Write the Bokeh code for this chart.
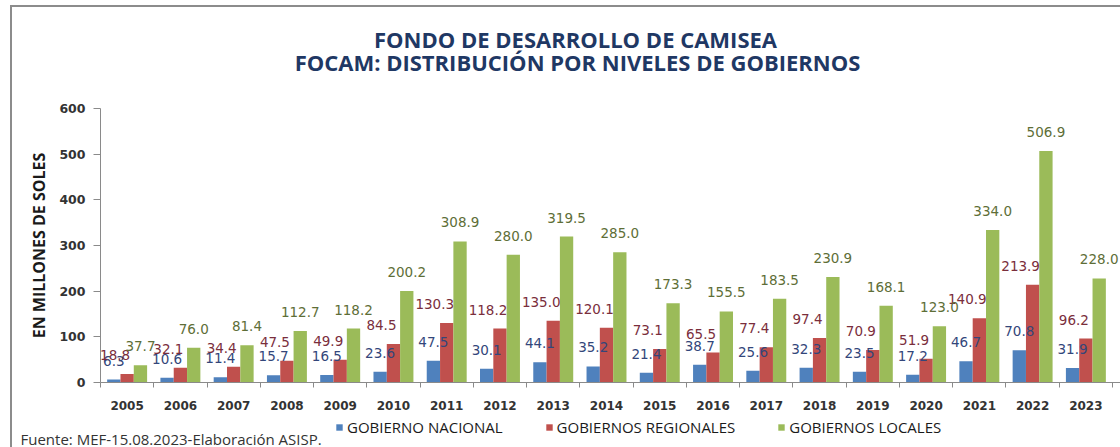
from bokeh.plotting import figure
from bokeh.layouts import column
from bokeh.models import (ColumnDataSource, FixedTicker, Legend, LegendItem, Range1d, Label)
from bokeh.transform import dodge
from bokeh.core.properties import value
from bokeh.embed import file_html
from bokeh.resources import INLINE

years = [2005, 2006, 2007, 2008, 2009, 2010, 2011, 2012, 2013, 2014,
         2015, 2016, 2017, 2018, 2019, 2020, 2021, 2022, 2023]
nacional = [6.3, 10.6, 11.4, 15.7, 16.5, 23.6, 47.5, 30.1, 44.1, 35.2,
            21.4, 38.7, 25.6, 32.3, 23.5, 17.2, 46.7, 70.8, 31.9]
regionales = [18.8, 32.1, 34.4, 47.5, 49.9, 84.5, 130.3, 118.2, 135.0, 120.1,
              73.1, 65.5, 77.4, 97.4, 70.9, 51.9, 140.9, 213.9, 96.2]
locales = [37.7, 76.0, 81.4, 112.7, 118.2, 200.2, 308.9, 280.0, 319.5, 285.0,
           173.3, 155.5, 183.5, 230.9, 168.1, 123.0, 334.0, 506.9, 228.0]
series_names = ["GOBIERNO NACIONAL", "GOBIERNOS REGIONALES", "GOBIERNOS LOCALES"]
y_ticks = [0, 100, 200, 300, 400, 500, 600]

title1 = "FONDO DE DESARROLLO DE CAMISEA"
title2 = "FOCAM: DISTRIBUCIÓN POR NIVELES DE GOBIERNOS"
y_title = "EN MILLONES DE SOLES"
footer = "Fuente:  MEF-15.08.2023-Elaboración ASISP."

bar_colors = ["#4F81BD", "#C0504D", "#9BBB59"]
label_colors = ["#33467A", "#7A2E3C", "#5E6E37"]

W = 1108
H_TOP, H_MAIN, H_BOT = 93, 317, 30


def blank(h):
    f = figure(width=W, height=h, x_range=Range1d(0, W), y_range=Range1d(h, 0),
               output_backend="svg", toolbar_location=None,
               x_axis_type=None, y_axis_type=None, frame_align=False,
               min_border=0, min_border_left=0, min_border_right=0,
               min_border_top=0, min_border_bottom=0)
    f.outline_line_color = None
    f.xgrid.grid_line_color = None
    f.ygrid.grid_line_color = None
    f.background_fill_color = "white"
    f.border_fill_color = "white"
    return f


# ---------- header with titles ----------
top = blank(H_TOP)
for txt, xx, yy in [(title1, 563, 31), (title2, 565, 54)]:
    top.add_layout(Label(x=xx, y=yy, text=txt, text_align="center", text_baseline="middle",
                         text_font="Open Sans", text_font_style="bold", text_font_size="22px",
                         text_color="#1F3864"))

# ---------- main chart ----------
idx = list(range(len(years)))
src = ColumnDataSource(dict(
    x=idx,
    nac=nacional, reg=regionales, loc=locales,
    nac_l=["%.1f" % v for v in nacional],
    reg_l=["%.1f" % v for v in regionales],
    loc_l=["%.1f" % v for v in locales],
))

p = figure(width=W, height=H_MAIN,
           x_range=Range1d(-0.5, len(years) - 0.5 + 0.15), y_range=Range1d(0, 600),
           output_backend="svg", toolbar_location=None, frame_align=False,
           min_border_left=88, min_border_right=0,
           min_border_top=8, min_border_bottom=35)
p.outline_line_color = None
p.xgrid.grid_line_color = None
p.ygrid.grid_line_color = None
p.background_fill_color = "white"
p.border_fill_color = "white"

bw = 0.25
offs = [-bw, 0.0, bw]
fields = ["nac", "reg", "loc"]
for f, o, c in zip(fields, offs, bar_colors):
    p.vbar(x=dodge("x", o), top=f, width=bw, fill_color=c, line_color=None, source=src)

lab_xoff = [0, -12, 0]
for f, o, c, xo in zip(fields, offs, label_colors, lab_xoff):
    p.text(x=dodge("x", o), y=f, text=f + "_l", source=src,
           text_align="center", text_baseline="middle", x_offset=xo, y_offset=-19,
           text_font=value("DejaVu Sans"), text_font_size="13.5px", text_color=c)

xa = p.xaxis[0]
xa.ticker = FixedTicker(ticks=idx, minor_ticks=[i - 0.5 for i in range(len(years) + 1)])
xa.major_label_overrides = {i: str(y) for i, y in zip(idx, years)}
xa.major_tick_line_color = None
xa.major_tick_out = 0
xa.minor_tick_line_color = "#8a8a8a"
xa.minor_tick_out = 5
xa.minor_tick_in = 0
xa.axis_line_color = "#8a8a8a"
xa.major_label_standoff = 13
xa.major_label_text_font = "DejaVu Sans"
xa.major_label_text_font_style = "bold"
xa.major_label_text_font_size = "12px"
xa.major_label_text_color = "#333333"

ya = p.yaxis[0]
ya.ticker = FixedTicker(ticks=y_ticks)
ya.major_tick_out = 7
ya.major_tick_in = 0
ya.minor_tick_line_color = None
ya.major_tick_line_color = "#8a8a8a"
ya.axis_line_color = "#8a8a8a"
ya.major_label_standoff = 8
ya.major_label_text_font = "DejaVu Sans"
ya.major_label_text_font_style = "bold"
ya.major_label_text_font_size = "12.5px"
ya.major_label_text_color = "#333333"
ya.axis_label = y_title
ya.axis_label_standoff = 6
ya.axis_label_text_font = "Open Sans"
ya.axis_label_text_font_style = "bold"
ya.axis_label_text_font_size = "16px"
ya.axis_label_text_color = "#1a1a1a"

# ---------- footer with legend and source ----------
bot = blank(H_BOT)
leg_rs = [bot.vbar(x=[0], top=[0], bottom=[0], width=1, fill_color=c, line_color=None)
          for c in bar_colors]
legend = Legend(items=[LegendItem(label=n, renderers=[r]) for n, r in zip(series_names, leg_rs)],
                location=(323, 10), orientation="horizontal",
                glyph_width=8, glyph_height=8, label_standoff=4, spacing=42,
                label_height=16, padding=0, margin=0,
                border_line_color=None, background_fill_alpha=0,
                label_text_font="Open Sans", label_text_font_size="15px",
                label_text_color="#1a1a1a")
bot.add_layout(legend)
bot.add_layout(Label(x=8, y=21, text=footer, text_align="left", text_baseline="middle",
                     text_font="Open Sans", text_font_size="15px", text_color="#333333"))

layout = column(top, p, bot, spacing=0,
                styles={"border-left": "2px solid #8c8c8c", "border-top": "2px solid #8c8c8c",
                        "margin-left": "10px", "margin-top": "5px"})

open("out.html", "w").write(file_html(layout, INLINE))
